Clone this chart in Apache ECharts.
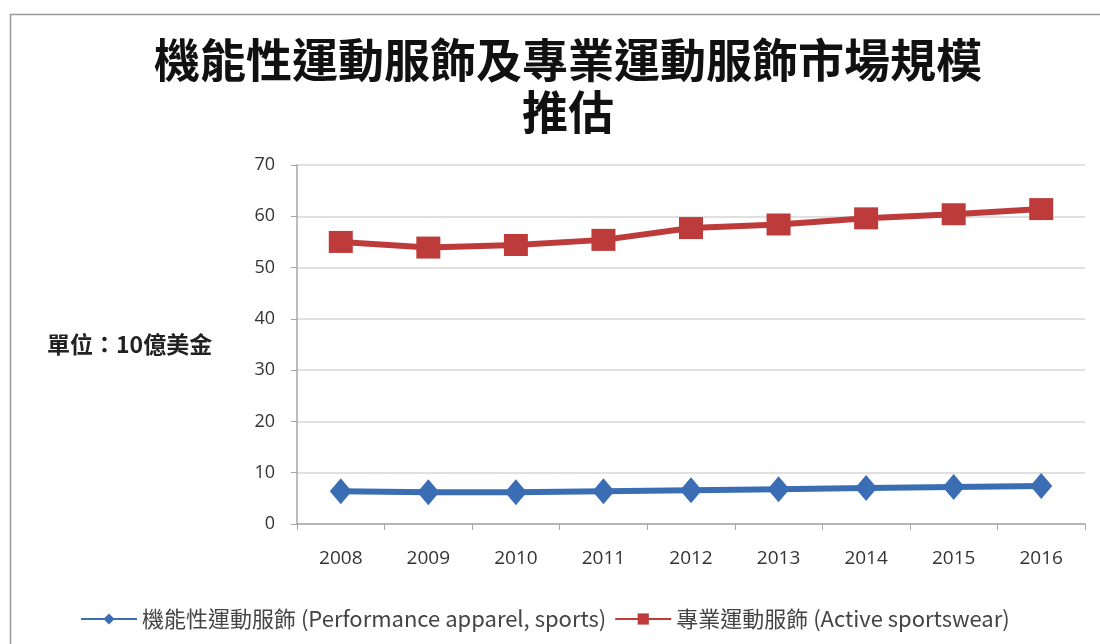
<!DOCTYPE html>
<html><head><meta charset="utf-8">
<script src="https://cdn.jsdelivr.net/npm/echarts@6/dist/echarts.min.js"></script>
<style>html,body{margin:0;padding:0;background:#fff}#c{width:1100px;height:644px}</style>
</head><body><div id="c"></div>
<script>
var categories = ['2008','2009','2010','2011','2012','2013','2014','2015','2016'];
var performance = [6.4, 6.2, 6.2, 6.4, 6.6, 6.8, 7.0, 7.2, 7.4];
var active = [55.0, 53.9, 54.4, 55.4, 57.7, 58.4, 59.6, 60.4, 61.4];
var yTicks = [0, 70, 10];
var seriesNames = ['機能性運動服飾 (Performance apparel, sports)', '專業運動服飾 (Active sportswear)'];
var titleText = '機能性運動服飾及專業運動服飾市場規模\n推估';
var unitText = '單位：10億美金';

var chart = echarts.init(document.getElementById('c'));
chart.setOption({
  animation: false,
  title: {
    text: titleText, left: 563, top: 29, textAlign: 'center',
    textStyle: { fontFamily: 'Noto Sans CJK TC', fontSize: 46, fontWeight: 'bold', color: '#111', lineHeight: 52 }
  },
  graphic: [
    { type: 'rect', shape: { x: 10.5, y: 14.5, width: 1200, height: 800 }, style: { fill: 'none', stroke: '#9a9a9a', lineWidth: 1.5 }, z: -1 },
    { type: 'text', left: 47, top: 333, style: { text: unitText, fontFamily: 'Noto Sans CJK TC', fontSize: 23, fontWeight: 'bold', fill: '#222' } }
  ],
  legend: {
    bottom: 9, left: 75, itemWidth: 56, itemHeight: 14, itemGap: 8,
    textStyle: { fontFamily: 'Noto Sans CJK TC', fontSize: 22, color: '#444' },
    data: seriesNames
  },
  grid: { left: 297, right: 15, top: 165, bottom: 120 },
  xAxis: {
    type: 'category', data: categories, boundaryGap: true,
    axisLine: { lineStyle: { color: '#a6a6a6', width: 1.5 } },
    axisTick: { show: true, length: 6, lineStyle: { color: '#a6a6a6' } },
    axisLabel: { margin: 25, fontFamily: 'Open Sans', fontSize: 19, color: '#333' }
  },
  yAxis: {
    type: 'value', min: yTicks[0], max: yTicks[1], interval: yTicks[2],
    axisLine: { show: true, lineStyle: { color: '#a6a6a6', width: 1.5 } },
    axisTick: { show: true, length: 6, inside: false, lineStyle: { color: '#a6a6a6' } },
    splitLine: { lineStyle: { color: '#d6d6d6', width: 1.5 } },
    axisLabel: { margin: 22, fontFamily: 'Open Sans', fontSize: 18, color: '#333' }
  },
  series: [
    { name: seriesNames[0], type: 'line', data: performance, symbol: 'diamond', symbolSize: [22, 26],
      lineStyle: { color: '#3b6db5', width: 6 }, itemStyle: { color: '#3b6db5' } },
    { name: seriesNames[1], type: 'line', data: active, symbol: 'rect', symbolSize: [24, 22],
      lineStyle: { color: '#be3b3b', width: 6 }, itemStyle: { color: '#be3b3b' } }
  ]
});
</script></body></html>
